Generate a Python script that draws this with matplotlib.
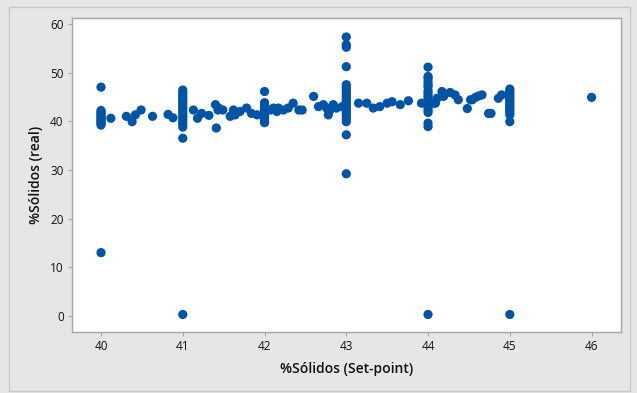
import matplotlib
matplotlib.use("Agg")
import matplotlib.pyplot as plt
from matplotlib.patches import Rectangle

# Set-point columns (repeated set-points with many readings)
col_40_x = 40.0
col_40_y = [47.0, 42.2, 41.9, 41.6, 41.3, 41.0, 40.7, 40.4, 40.1, 39.8, 39.5, 39.2, 13.0]
col_41_x = 41.0
col_41_y = [46.4, 45.9, 45.4, 44.9, 44.4, 43.9, 43.4, 42.9, 42.4, 41.9, 41.4, 40.9,
            40.4, 39.9, 39.4, 38.8, 36.5, 0.3]
col_42_x = 42.0
col_42_y = [46.1, 43.8, 43.4, 43.0, 42.6, 42.2, 41.8, 41.4, 41.0, 40.6, 40.2, 39.7]
col_43_x = 43.0
col_43_y = [57.3, 55.7, 55.2, 51.2, 47.5, 47.0, 46.5, 46.0, 45.5, 45.0, 44.5, 44.0,
            43.5, 43.0, 42.5, 42.0, 41.5, 41.0, 40.5, 39.9, 37.2, 29.2]
col_44_x = 44.0
col_44_y = [51.1, 49.2, 48.8, 48.1, 47.5, 47.1, 46.3, 45.8, 45.3, 44.8, 44.3, 43.8,
            43.3, 42.8, 42.3, 41.8, 39.6, 38.9, 0.3]
col_45_x = 45.0
col_45_y = [46.6, 46.2, 45.8, 45.4, 45.0, 44.6, 44.2, 43.8, 43.4, 43.0, 42.6, 42.2,
            41.8, 41.3, 39.9, 0.3]

# Intermediate set-points, one reading each
mid_x = [40.12, 40.31, 40.38, 40.42, 40.49, 40.63, 40.82, 40.88, 41.13, 41.18, 41.23,
         41.32, 41.40, 41.43, 41.41, 41.49, 41.44, 41.58, 41.64, 41.62, 41.70, 41.78,
         41.84, 41.91, 42.07, 42.11, 42.15, 42.17, 42.23, 42.29, 42.35, 42.42, 42.46,
         42.60, 42.66, 42.72, 42.76, 42.78, 42.80, 42.84, 42.88, 42.95, 43.15, 43.25,
         43.33, 43.41, 43.50, 43.56, 43.66, 43.76, 43.92, 44.07, 44.09, 44.11, 44.17,
         44.19, 44.27, 44.33, 44.37, 44.48, 44.52, 44.54, 44.58, 44.62, 44.66, 44.74,
         44.77, 44.86, 44.90, 46.0]
mid_y = [40.6, 41.0, 39.9, 41.3, 42.3, 41.0, 41.4, 40.7, 42.3, 40.6, 41.6,
         41.2, 43.4, 42.3, 38.6, 42.3, 42.7, 41.0, 41.3, 42.3, 42.0, 42.7,
         41.6, 41.3, 42.3, 42.7, 42.0, 42.7, 42.3, 42.7, 43.7, 42.3, 42.3,
         45.1, 43.0, 43.4, 42.7, 41.3, 42.3, 43.4, 42.7, 43.0, 43.7, 43.7,
         42.7, 43.0, 43.7, 44.0, 43.4, 44.2, 43.7, 43.7, 43.7, 44.7, 46.1,
         45.1, 45.9, 45.4, 44.4, 42.6, 44.4, 44.4, 44.9, 45.2, 45.4, 41.6,
         41.6, 44.7, 45.4, 44.9]

x_ticks = [40, 41, 42, 43, 44, 45, 46]
y_ticks = [0, 10, 20, 30, 40, 50, 60]

xs, ys = [], []
for cx, cy in [(col_40_x, col_40_y), (col_41_x, col_41_y), (col_42_x, col_42_y),
               (col_43_x, col_43_y), (col_44_x, col_44_y), (col_45_x, col_45_y)]:
    xs += [cx] * len(cy)
    ys += cy
xs += mid_x
ys += mid_y

W, H = 637, 393
bg = "#e6e6e6"
edge = "#a6a6a6"
blue = "#0054a6"
text_c = "#111111"
plt.rcParams["font.family"] = ["Open Sans", "DejaVu Sans"]

fig = plt.figure(figsize=(W / 100, H / 100), dpi=100, facecolor=bg)
fig.patches.append(Rectangle((9 / W, 1 - 391 / H), (630 - 9) / W, (391 - 7) / H,
                             transform=fig.transFigure, fill=False,
                             edgecolor="#c8c8c8", linewidth=1.0))

ax = fig.add_axes([72 / W, 1 - 332 / H, (621 - 72) / W, (332 - 18) / H])
ax.set_facecolor("white")
ax.scatter(xs, ys, s=44, color=blue, edgecolors="none", zorder=3)

ax.set_xlim(39.645, 46.36)
ax.set_ylim(-3.3, 61.2)
ax.set_xticks(x_ticks)
ax.set_yticks(y_ticks)
for s in ax.spines.values():
    s.set_color(edge)
    s.set_linewidth(1.0)
ax.tick_params(colors=edge, length=3, width=0.8, labelcolor=text_c,
               labelsize=8.5, pad=3)
for lbl in ax.get_xticklabels() + ax.get_yticklabels():
    lbl.set_fontweight("medium")

ax.set_xlabel("%Sólidos (Set-point)", fontsize=10, color=text_c, labelpad=6,
              fontweight="semibold")
ax.set_ylabel("%Sólidos (real)", fontsize=10, color=text_c, labelpad=5,
              fontweight="semibold")

fig.savefig("out.png", dpi=100, facecolor=bg)
